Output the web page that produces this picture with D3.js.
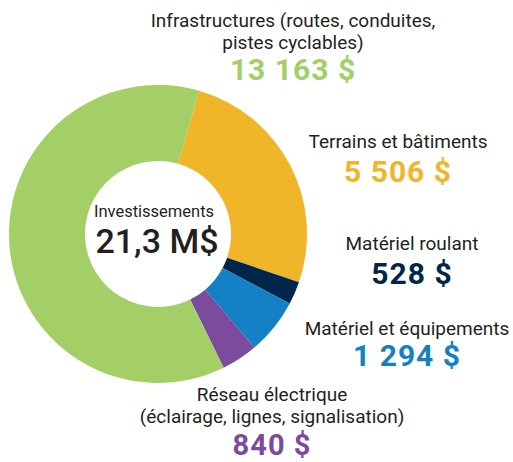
<!DOCTYPE html>
<html><head><meta charset="utf-8">
<script src="https://cdn.jsdelivr.net/npm/d3@7"></script>
<style>body{margin:0;background:#fff}svg{display:block}</style>
</head><body>
<script>
const categories = ["Terrains et bâtiments","Matériel roulant","Matériel et équipements","Réseau électrique","Infrastructures"];
const values = [5506, 528, 1294, 840, 13163];
const valueLabels = ["5 506 $","528 $","1 294 $","840 $","13 163 $"];
const labelLines = [["Terrains et bâtiments"],["Matériel roulant"],["Matériel et équipements"],["Réseau électrique","(éclairage, lignes, signalisation)"],["Infrastructures (routes, conduites,","pistes cyclables)"]];
const colors = ["#f0b529","#00264c","#1480c5","#7b4b9d","#a4cf67"];
const centerTitle = "Investissements";
const centerValue = "21,3 M$";

const W=513,H=462;
const svg=d3.select("body").append("svg").attr("width",W).attr("height",H);
const cx=158, cy=234, R=149, r=73;
const start=16*Math.PI/180;
const pie=d3.pie().sort(null).startAngle(start).endAngle(start+2*Math.PI);
const arc=d3.arc().innerRadius(r).outerRadius(R);
const g=svg.append("g").attr("transform",`translate(${cx},${cy})`);
g.selectAll("path").data(pie(values)).join("path").attr("d",arc).attr("fill",(d,i)=>colors[i]);

const font="Roboto, 'DejaVu Sans', sans-serif";
const txt="#231f20";
const pos=[
 {x:398,y:[148],vy:182,vs:30},
 {x:412,y:[250],vy:284,vs:30},
 {x:407,y:[335],vy:366,vs:30},
 {x:272,y:[401,423.3],vy:454.8,vs:29},
 {x:293,y:[26.5,49],vy:80,vs:30}
];
const lg=svg.append("g");
categories.forEach((c,i)=>{
  const p=pos[i];
  labelLines[i].forEach((l,j)=>{
    lg.append("text").attr("x",p.x).attr("y",p.y[j]).attr("text-anchor","middle")
      .attr("font-family",font).attr("font-size",19).attr("fill",txt).text(l);
  });
  lg.append("text").attr("x",p.x).attr("y",p.vy).attr("text-anchor","middle")
    .attr("font-family",font).attr("font-weight","bold").attr("font-size",p.vs)
    .attr("letter-spacing",1).attr("fill",colors[i]).text(valueLabels[i]);
});
svg.append("text").attr("x",154).attr("y",217).attr("text-anchor","middle").attr("font-family",font)
  .attr("font-size",16.5).attr("fill",txt).text(centerTitle);
svg.append("text").attr("x",157).attr("y",253).attr("text-anchor","middle").attr("font-family",font)
  .attr("font-size",34).attr("font-weight",500).attr("fill",txt).text(centerValue);
</script>
</body></html>
